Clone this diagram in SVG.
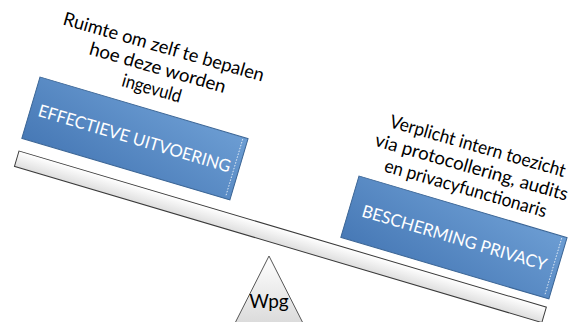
<svg xmlns="http://www.w3.org/2000/svg" width="581" height="322" viewBox="0 0 581 322">
<defs>
<linearGradient id="gBox" x1="0" y1="1" x2="1" y2="0">
<stop offset="0" stop-color="#4779b6"/>
<stop offset="1" stop-color="#6c9dd3"/>
</linearGradient>
<linearGradient id="gBeam" x1="0" y1="0" x2="0" y2="1">
<stop offset="0" stop-color="#ffffff"/>
<stop offset="1" stop-color="#dedede"/>
</linearGradient>
<linearGradient id="gTri" x1="0" y1="0" x2="0" y2="1">
<stop offset="0" stop-color="#ffffff"/>
<stop offset="1" stop-color="#d6d6d6"/>
</linearGradient>
</defs>
<style>
.box{fill:url(#gBox);stroke:#3b6595;stroke-width:1}
.dash{stroke:#ffffff;stroke-width:0.8;stroke-dasharray:1.5 1.5;fill:none;opacity:0.9}
.btxt{font-family:Lato,"Liberation Sans",sans-serif;font-size:17px;fill:#ffffff;text-anchor:middle}
.ltxt{font-family:Lato,"Liberation Sans",sans-serif;font-size:18.5px;fill:#000000;text-anchor:middle}
</style>
<rect width="581" height="322" fill="#ffffff"/>
<g id="beam">
<rect transform="translate(19,151) rotate(16.5)" x="0" y="0" width="550" height="16" fill="url(#gBeam)" stroke="#3a3a3a" stroke-width="1"/>
</g>
<g id="fulcrum">
<polygon points="269,256 230,333 308,333" fill="url(#gTri)" stroke="#555555" stroke-width="1"/>
<text x="269" y="308" font-family="Lato,'Liberation Sans',sans-serif" font-size="19" text-anchor="middle" fill="#000">Wpg</text>
</g>
<g id="box-effectieve" transform="translate(40,77) rotate(16.5)">
<rect class="box" x="0" y="0" width="217" height="64"/>
<line class="dash" x1="212" y1="2" x2="212" y2="62"/>
<text class="btxt" x="108" y="38" textLength="200" lengthAdjust="spacingAndGlyphs">EFFECTIEVE UITVOERING</text>
</g>
<g id="box-privacy" transform="translate(359,176) rotate(16.5)">
<rect class="box" x="0" y="0" width="217" height="64"/>
<line class="dash" x1="212" y1="2" x2="212" y2="62"/>
<text class="btxt" x="109" y="38" textLength="192" lengthAdjust="spacingAndGlyphs">BESCHERMING PRIVACY</text>
</g>
<g id="label-ruimte" transform="translate(162,53) rotate(16)">
<text class="ltxt" x="0" y="0" textLength="208" lengthAdjust="spacingAndGlyphs">Ruimte om zelf te bepalen</text>
<text class="ltxt" x="0" y="21.5" textLength="141" lengthAdjust="spacingAndGlyphs">hoe deze worden</text>
<text class="ltxt" x="0" y="43" textLength="61" lengthAdjust="spacingAndGlyphs">ingevuld</text>
</g>
<g id="label-toezicht" transform="translate(476,152) rotate(16)">
<text class="ltxt" x="0" y="0" textLength="182" lengthAdjust="spacingAndGlyphs">Verplicht intern toezicht</text>
<text class="ltxt" x="0" y="22" textLength="200" lengthAdjust="spacingAndGlyphs">via protocollering, audits</text>
<text class="ltxt" x="0" y="44" textLength="168" lengthAdjust="spacingAndGlyphs">en privacyfunctionaris</text>
</g>
</svg>
